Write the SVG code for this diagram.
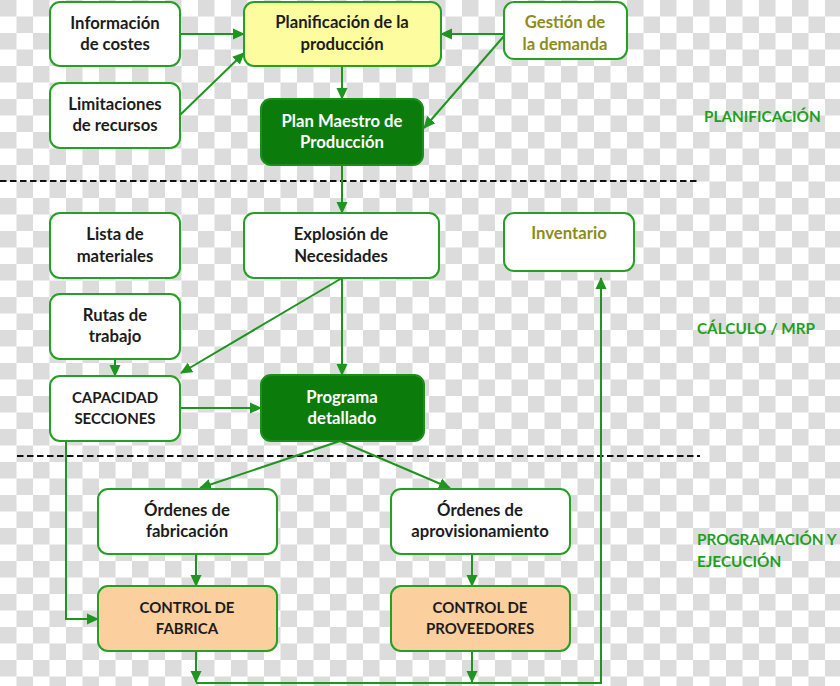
<svg xmlns="http://www.w3.org/2000/svg" width="840" height="686" viewBox="0 0 840 686">
<defs>
<pattern id="cb" width="33" height="33" patternUnits="userSpaceOnUse">
<rect width="33" height="33" fill="#ffffff"/>
<rect width="16.5" height="16.5" fill="#dcdcdc"/>
<rect x="16.5" y="16.5" width="16.5" height="16.5" fill="#dcdcdc"/>
</pattern>
<marker id="ah" markerUnits="userSpaceOnUse" markerWidth="12" markerHeight="12" viewBox="0 0 12 12" refX="11" refY="6" orient="auto">
<path d="M0,0.5 L12,6 L0,11.5 Z" fill="#1e951e"/>
</marker>
<style>
.box{fill:#ffffff;stroke:#25a025;stroke-width:2}
.yel{fill:#fdfd9f;stroke:#25a025;stroke-width:2}
.dk{fill:#0b7b0b;stroke:#1a8f1a;stroke-width:2}
.pch{fill:#fccf9f;stroke:#25a025;stroke-width:2}
text{font-family:Lato,"Liberation Sans",sans-serif;font-weight:bold;font-size:16.7px;text-anchor:middle}
.cap{font-size:15px}
.t{fill:#1c1c1c}
.w{fill:#ffffff}
.o{fill:#8c8c1c}
.g{fill:#1f9f1f;text-anchor:start;font-size:15.3px}
.c{fill:none;stroke:#1e951e;stroke-width:2}
.ca{fill:none;stroke:#1e951e;stroke-width:2;marker-end:url(#ah)}
.dash{fill:none;stroke:#111111;stroke-width:1.8;stroke-dasharray:6.5 3.5}
</style>
</defs>
<rect width="840" height="686" fill="url(#cb)"/>
<g id="separators">
<line class="dash" x1="0" y1="181" x2="700" y2="181"/>
<line class="dash" x1="17" y1="456" x2="700" y2="456"/>
</g>
<g id="connectors">
<path class="ca" d="M180,34 H244"/>
<path class="ca" d="M180,115 L244,53"/>
<path class="ca" d="M504,34 H441"/>
<path class="ca" d="M504,36 L424,128"/>
<path class="ca" d="M342,66 V99"/>
<path class="ca" d="M342,165 V213"/>
<path class="ca" d="M342,278 L181,373"/>
<path class="ca" d="M342,278 V375"/>
<path class="ca" d="M115,359 V376"/>
<path class="ca" d="M180,408 H261"/>
<path class="ca" d="M340,441 L200,488"/>
<path class="ca" d="M340,441 L450,488"/>
<path class="ca" d="M196,554 V586"/>
<path class="ca" d="M472,554 V586"/>
<path class="ca" d="M66,441 V619 H98"/>
<path class="ca" d="M196,651 V682"/>
<path class="ca" d="M472,651 V682"/>
<path class="ca" d="M196,683 H601 V278"/>
</g>
<g id="info-costes"><rect class="box" x="50" y="2" width="130" height="64" rx="10"/><text class="t" x="115" y="29">Información</text><text class="t" x="115" y="50">de costes</text></g>
<g id="limitaciones"><rect class="box" x="50" y="83" width="130" height="65" rx="10"/><text class="t" x="115" y="110">Limitaciones</text><text class="t" x="115" y="131">de recursos</text></g>
<g id="planificacion"><rect class="yel" x="244" y="2" width="197" height="64" rx="10"/><text class="t" x="342" y="28">Planificación de la</text><text class="t" x="342" y="50">producción</text></g>
<g id="gestion"><rect class="box" x="504" y="2" width="123" height="57" rx="10"/><text class="o" x="565" y="28">Gestión de</text><text class="o" x="565" y="50">la demanda</text></g>
<g id="plan-maestro"><rect class="dk" x="261" y="99" width="162" height="66" rx="10"/><text class="w" x="342" y="127">Plan Maestro de</text><text class="w" x="342" y="148">Producción</text></g>
<g id="lista"><rect class="box" x="50" y="213" width="130" height="65" rx="10"/><text class="t" x="115" y="240">Lista de</text><text class="t" x="115" y="262">materiales</text></g>
<g id="explosion"><rect class="box" x="244" y="213" width="195" height="65" rx="10"/><text class="t" x="341" y="240">Explosión de</text><text class="t" x="341" y="262">Necesidades</text></g>
<g id="inventario"><rect class="box" x="504" y="213" width="130" height="58" rx="10"/><text class="o" x="569" y="239">Inventario</text></g>
<g id="rutas"><rect class="box" x="50" y="294" width="130" height="65" rx="10"/><text class="t" x="115" y="321">Rutas de</text><text class="t" x="115" y="342">trabajo</text></g>
<g id="capacidad"><rect class="box" x="50" y="376" width="130" height="65" rx="10"/><text class="t cap" x="115" y="403">CAPACIDAD</text><text class="t cap" x="115" y="424">SECCIONES</text></g>
<g id="programa"><rect class="dk" x="261" y="375" width="163" height="66" rx="10"/><text class="w" x="342" y="403">Programa</text><text class="w" x="342" y="424">detallado</text></g>
<g id="ordenes-fab"><rect class="box" x="98" y="489" width="179" height="65" rx="10"/><text class="t" x="187" y="516">Órdenes de</text><text class="t" x="187" y="537">fabricación</text></g>
<g id="ordenes-aprov"><rect class="box" x="391" y="489" width="179" height="65" rx="10"/><text class="t" x="480" y="516">Órdenes de</text><text class="t" x="480" y="537">aprovisionamiento</text></g>
<g id="control-fab"><rect class="pch" x="98" y="586" width="179" height="65" rx="10"/><text class="t cap" x="187" y="613">CONTROL DE</text><text class="t cap" x="187" y="634">FABRICA</text></g>
<g id="control-prov"><rect class="pch" x="391" y="586" width="179" height="65" rx="10"/><text class="t cap" x="480" y="613">CONTROL DE</text><text class="t cap" x="480" y="634">PROVEEDORES</text></g>
<g id="labels">
<text class="g" x="704" y="122">PLANIFICACIÓN</text>
<text class="g" x="697" y="334">CÁLCULO / MRP</text>
<text class="g" x="697" y="545">PROGRAMACIÓN Y</text>
<text class="g" x="697" y="567">EJECUCIÓN</text>
</g>
</svg>
